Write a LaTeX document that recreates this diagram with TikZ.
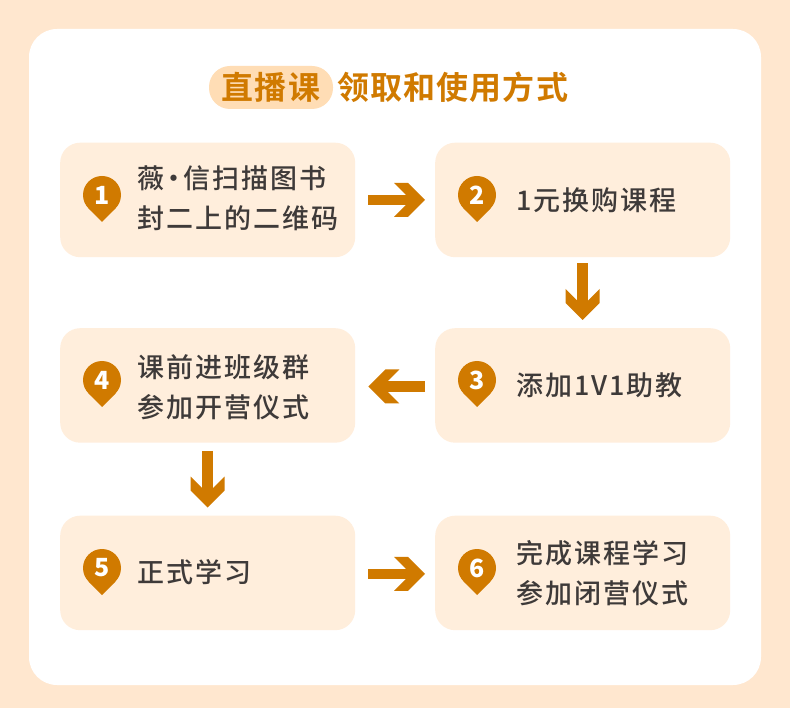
\documentclass[tikz,border=0pt]{standalone}
\usepackage{fontspec}
\usetikzlibrary{arrows.meta}
\newfontfamily\cjkbody[LetterSpace=7]{Noto Sans CJK SC Medium}
\newfontfamily\cjktitle[LetterSpace=3.6]{Noto Sans CJK SC Bold}
\newfontfamily\cjkdigit{Noto Sans CJK SC Black}
\definecolor{pagebg}{HTML}{FFE7CF}
\definecolor{boxbg}{HTML}{FFEEDC}
\definecolor{pillbg}{HTML}{FFDDB5}
\definecolor{brand}{HTML}{D07A00}
\definecolor{ink}{HTML}{3E3A39}
\pgfdeclarearrow{
  name=Chev,
  setup code={
    \pgfarrowssettipend{0pt}
    \pgfarrowssetlineend{-18pt}
    \pgfarrowssetbackend{-31pt}
    \pgfarrowssetvisualbackend{-18pt}
    \pgfarrowshullpoint{0pt}{0pt}
    \pgfarrowshullpoint{-31pt}{17pt}
    \pgfarrowshullpoint{-31pt}{-17pt}
  },
  drawing code={
    \pgfpathmoveto{\pgfpoint{0pt}{0pt}}
    \pgfpathlineto{\pgfpoint{-17pt}{17pt}}
    \pgfpathlineto{\pgfpoint{-31pt}{17pt}}
    \pgfpathlineto{\pgfpoint{-19.5pt}{5.5pt}}
    \pgfpathlineto{\pgfpoint{-19.5pt}{-5.5pt}}
    \pgfpathlineto{\pgfpoint{-31pt}{-17pt}}
    \pgfpathlineto{\pgfpoint{-17pt}{-17pt}}
    \pgfpathclose
    \pgfusepathqfill
  }
}
\tikzset{
  stepbox/.style={fill=boxbg,rounded corners=20pt,minimum width=295pt,minimum height=114.5pt,inner sep=0pt,anchor=north west},
  steptext/.style={anchor=west,inner sep=0pt,text=ink,font=\cjkbody\fontsize{27pt}{40pt}\selectfont,align=left},
  pindisc/.style={circle,fill=brand,minimum size=38pt,inner sep=0pt,text=white,font=\cjkdigit\fontsize{25pt}{25pt}\selectfont},
  flow/.style={draw=brand,line width=10.5pt,-{Chev}},
  pin/.pic={\fill[brand] (-13.5,13.5) -- (0,27) -- (13.5,13.5) -- cycle;}
}
\begin{document}
\begin{tikzpicture}[x=1pt,y=-1pt]
\useasboundingbox (0,0) rectangle (790,708);
\fill[pagebg] (0,0) rectangle (790,708);
\fill[white,rounded corners=28pt] (29,29) rectangle (761,685);
% title
\node[fill=pillbg,rounded corners=21pt,minimum width=124pt,minimum height=43pt,inner sep=0pt] (pill) at (271,87.5) {};
\node[inner sep=0pt,text=brand,font=\cjktitle\fontsize{32pt}{32pt}\selectfont] (titleA) at (271,87) {直播课};
\node[anchor=west,inner sep=0pt,text=brand,font=\cjktitle\fontsize{32pt}{32pt}\selectfont] (titleB) at (337,87) {领取和使用方式};
% boxes
\node[stepbox] (b1) at (60,142.5) {};
\node[stepbox] (b2) at (435,142.5) {};
\node[stepbox] (b3) at (435,328) {};
\node[stepbox] (b4) at (60,328) {};
\node[stepbox] (b5) at (60,515.5) {};
\node[stepbox] (b6) at (435,515.5) {};
% pins
\foreach \n/\x/\y in {1/102/195,2/477/195,3/477/380,4/102/380,5/102/568,6/477/568}{
  \pic at (\x,\y) {pin};
  \node[pindisc] (p\n) at (\x,\y) {\n};
}
% texts
\node[steptext] (t1) at (137.5,198) {薇\kern-4pt ·\kern-4pt 信扫描图书\\封二上的二维码};
\node[steptext] (t2) at (516.5,200) {1元换购课程};
\node[steptext] (t3) at (516.5,385) {添加1V1助教};
\node[steptext] (t4) at (137.5,387) {课前进班级群\\参加开营仪式};
\node[steptext] (t5) at (137.5,572) {正式学习};
\node[steptext] (t6) at (516.5,573) {完成课程学习\\参加闭营仪式};
% connectors
\draw[flow] ([xshift=13pt]b1.east) -- ([xshift=-10pt]b2.west);
\draw[flow] ([yshift=-6pt]b2.south) -- ([yshift=8pt]b3.north);
\draw[flow] ([xshift=-10pt,yshift=-1pt]b3.west) -- ([xshift=13pt,yshift=-1pt]b4.east);
\draw[flow] ([yshift=-8pt]b4.south) -- ([yshift=8pt]b5.north);
\draw[flow] ([xshift=13pt,yshift=-1pt]b5.east) -- ([xshift=-10pt,yshift=-1pt]b6.west);
\end{tikzpicture}
\end{document}
